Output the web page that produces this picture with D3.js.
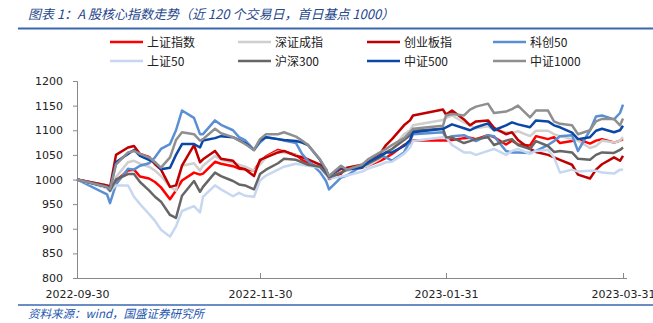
<!DOCTYPE html>
<html><head><meta charset="utf-8">
<script src="https://cdn.jsdelivr.net/npm/d3@7"></script>
<style>
html,body{margin:0;padding:0;background:#fff;}
svg{display:block;}
</style></head>
<body>
<svg id="chart" width="653" height="323"></svg>
<script>
const titleText = "图表 1：A 股核心指数走势（近 120 个交易日，首日基点 1000）";
const sourceText = "资料来源：wind，国盛证券研究所";

const dates = ["2022-09-30","2022-10-10","2022-10-11","2022-10-13","2022-10-17","2022-10-19","2022-10-21","2022-10-24","2022-10-26","2022-10-28","2022-10-31","2022-11-02","2022-11-04","2022-11-08","2022-11-10","2022-11-11","2022-11-15","2022-11-17","2022-11-21","2022-11-23","2022-11-25","2022-11-28","2022-11-30","2022-12-02","2022-12-06","2022-12-08","2022-12-12","2022-12-14","2022-12-16","2022-12-20","2022-12-22","2022-12-23","2022-12-27","2022-12-29","2023-01-03","2023-01-05","2023-01-09","2023-01-11","2023-01-13","2023-01-17","2023-01-19","2023-01-20","2023-01-30","2023-01-31","2023-02-02","2023-02-06","2023-02-08","2023-02-10","2023-02-14","2023-02-16","2023-02-20","2023-02-22","2023-02-24","2023-02-28","2023-03-02","2023-03-06","2023-03-08","2023-03-10","2023-03-14","2023-03-16","2023-03-20","2023-03-22","2023-03-24","2023-03-28","2023-03-30","2023-03-31"];

const seriesNames = ["上证指数","深证成指","创业板指","科创50","上证50","沪深300","中证500","中证1000"];
const seriesColors = ["#ff0000","#cfcfcf","#c00000","#5b8fd4","#c6d7ef","#666666","#0b47a6","#8f8f8f"];

const shIndex = [1000,988,984,998,1018,1020,1006,1002,995,984,960,978,998,1014,1010,1012,1036,1032,1027,1022,1021,1018,1036,1047,1060,1057,1050,1040,1034,1027,1018,1004,1022,1021,1024,1028,1038,1044,1052,1070,1074,1079,1079,1079,1080,1084,1085,1082,1090,1086,1071,1079,1071,1069,1088,1082,1086,1074,1078,1082,1073,1079,1082,1075,1079,1082];
const szIndex = [1000,988,985,1005,1035,1038,1032,1026,1018,1007,985,977,1028,1033,1018,1028,1048,1040,1034,1030,1026,1018,1030,1045,1057,1055,1050,1045,1040,1028,1012,1004,1015,1018,1024,1028,1042,1055,1062,1092,1100,1110,1121,1125,1130,1116,1110,1104,1108,1100,1096,1094,1098,1088,1099,1099,1092,1088,1082,1079,1064,1068,1079,1075,1079,1086];
const cyIndex = [1000,988,984,1050,1065,1068,1052,1046,1031,1020,985,988,1028,1070,1035,1041,1058,1042,1038,1024,1021,1007,1040,1045,1055,1058,1048,1045,1041,1030,1021,1001,1012,1024,1030,1035,1052,1070,1082,1110,1120,1130,1142,1132,1140,1122,1110,1118,1120,1105,1092,1096,1080,1062,1056,1050,1045,1040,1030,1010,1002,1020,1031,1045,1038,1048];
const kc50 = [1000,970,952,990,1022,1020,1028,1033,1045,1062,1072,1100,1140,1125,1092,1092,1120,1111,1100,1086,1080,1060,1075,1086,1082,1079,1074,1052,1038,1015,997,980,1004,1008,1028,1035,1048,1045,1038,1055,1078,1092,1096,1084,1088,1090,1084,1078,1090,1088,1058,1055,1055,1054,1058,1070,1078,1088,1090,1058,1100,1128,1130,1122,1135,1152];
const sz50 = [1000,982,976,988,988,965,950,930,916,898,884,905,936,946,933,965,988,980,966,973,967,965,998,1008,1020,1026,1032,1030,1028,1024,1010,1002,1006,1008,1016,1022,1030,1035,1036,1052,1065,1078,1086,1086,1070,1055,1055,1050,1058,1062,1050,1058,1062,1052,1058,1060,1045,1014,1020,1016,1018,1018,1014,1012,1020,1020];
const hs300 = [1000,985,977,1000,1011,1011,995,978,965,955,928,922,967,997,975,985,1014,1007,997,990,988,980,1011,1020,1033,1042,1040,1035,1030,1026,1012,1004,1014,1020,1028,1032,1045,1055,1062,1080,1090,1099,1103,1086,1085,1074,1078,1082,1086,1070,1079,1082,1070,1062,1078,1068,1056,1058,1055,1042,1040,1050,1055,1054,1060,1065];
const zz500 = [1000,985,980,1035,1052,1060,1048,1040,1035,1021,1024,1050,1072,1072,1065,1079,1084,1088,1086,1080,1074,1060,1079,1086,1082,1080,1078,1075,1070,1040,1018,1007,1024,1021,1024,1035,1048,1055,1055,1068,1080,1096,1103,1106,1112,1104,1100,1106,1114,1100,1110,1116,1112,1106,1120,1118,1110,1106,1095,1082,1086,1099,1103,1096,1100,1109];
const zz1000 = [1000,985,980,1030,1055,1058,1052,1045,1035,1024,1045,1080,1096,1092,1079,1082,1103,1094,1086,1079,1072,1060,1082,1092,1092,1096,1087,1079,1070,1041,1021,1007,1028,1020,1030,1041,1055,1062,1070,1084,1096,1103,1109,1130,1133,1130,1142,1148,1154,1135,1138,1143,1150,1126,1140,1140,1118,1113,1110,1092,1100,1118,1123,1123,1110,1124];

const seriesValues = [shIndex, szIndex, cyIndex, kc50, sz50, hs300, zz500, zz1000];

const yTicks = [800,850,900,950,1000,1050,1100,1150,1200];
const xTickLabels = ["2022-09-30","2022-11-30","2023-01-31","2023-03-31"];

const parse = d3.timeParse("%Y-%m-%d");
const fmt = d3.timeFormat("%Y-%m-%d");
const svg = d3.select("#chart");

const plot = {left:77, right:623, top:81, bottom:278};
const x = d3.scaleTime().domain([parse(xTickLabels[0]), parse(xTickLabels[3])]).range([plot.left, plot.right]);
const y = d3.scaleLinear().domain([800,1200]).range([plot.bottom, plot.top]);

// title
svg.append("text").attr("x", 28).attr("y", 19)
  .attr("font-family", "'Noto Sans CJK SC', sans-serif").attr("font-size", 13)
  .attr("font-style", "italic").attr("fill", "#26478c").text(titleText);
svg.append("line").attr("x1", 18).attr("x2", 653).attr("y1", 28.5).attr("y2", 28.5)
  .attr("stroke", "#3a67b0").attr("stroke-width", 2);

// legend
const legCols = [110, 238, 367, 493];
const legRows = [42, 61];
seriesNames.forEach((n, i) => {
  const cx = legCols[i % 4], cy = legRows[Math.floor(i / 4)];
  const g = svg.append("g");
  g.append("line").attr("x1", cx).attr("x2", cx + 33).attr("y1", cy).attr("y2", cy)
    .attr("stroke", seriesColors[i]).attr("stroke-width", 2.5);
  g.append("text").attr("x", cx + 37).attr("y", cy + 4.5)
    .attr("font-family", "'Noto Sans CJK SC', sans-serif").attr("font-size", 12)
    .attr("fill", "#222").text(n);
});

// axes
const yAxis = d3.axisLeft(y).tickValues(yTicks).tickSize(4).tickPadding(10).tickFormat(d3.format("d"));
const gy = svg.append("g").attr("transform", `translate(${plot.left},0)`).call(yAxis);
gy.select(".domain").attr("stroke", "#888");
gy.selectAll(".tick line").attr("stroke", "#888");
gy.selectAll("text").attr("font-family", "'DejaVu Sans', sans-serif").attr("font-size", 11).attr("fill", "#222");

const xAxis = d3.axisBottom(x).tickValues(xTickLabels.map(parse)).tickSizeInner(-5).tickSizeOuter(0).tickPadding(12).tickFormat(fmt);
const gx = svg.append("g").attr("transform", `translate(0,${plot.bottom})`).call(xAxis);
gx.select(".domain").attr("stroke", "#888").attr("d", `M${plot.left},0.5H${plot.right + 4}`);
gx.selectAll(".tick line").attr("stroke", "#888");
gx.selectAll("text").attr("font-family", "'DejaVu Sans', sans-serif").attr("font-size", 11).attr("fill", "#222");

// lines
const line = d3.line().x((d, i) => x(parse(dates[i]))).y(d => y(d));
seriesValues.forEach((vals, i) => {
  svg.append("path").datum(vals).attr("d", line).attr("fill", "none")
    .attr("stroke", seriesColors[i]).attr("stroke-width", 2.5).attr("stroke-linejoin", "round");
});

// footer
svg.append("line").attr("x1", 18).attr("x2", 653).attr("y1", 305).attr("y2", 305)
  .attr("stroke", "#3a67b0").attr("stroke-width", 1.5);
svg.append("text").attr("x", 28).attr("y", 318)
  .attr("font-family", "'Noto Sans CJK SC', sans-serif").attr("font-size", 11.5)
  .attr("font-style", "italic").attr("fill", "#2456b0").text(sourceText);
</script>
</body></html>
